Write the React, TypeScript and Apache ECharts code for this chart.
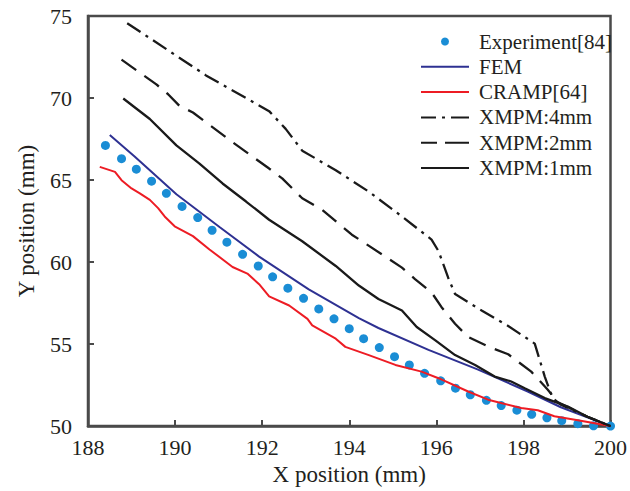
import React, { useEffect, useRef } from "react";
import * as echarts from "echarts";

const xTicks = [188, 190, 192, 194, 196, 198, 200];
const yTicks = [50, 55, 60, 65, 70, 75];

const expX = [188.40, 188.77, 189.11, 189.46, 189.80, 190.16, 190.52, 190.85, 191.19, 191.55, 191.91, 192.24, 192.59, 192.95, 193.30, 193.65, 194.00, 194.33, 194.69, 195.04, 195.38, 195.73, 196.10, 196.44, 196.78, 197.15, 197.49, 197.85, 198.19, 198.54, 198.88, 199.25, 199.61, 200.0];
const expY = [67.11, 66.30, 65.66, 64.93, 64.19, 63.39, 62.71, 61.94, 61.21, 60.47, 59.76, 59.10, 58.41, 57.79, 57.14, 56.54, 55.94, 55.33, 54.79, 54.23, 53.73, 53.22, 52.76, 52.31, 51.91, 51.57, 51.25, 50.97, 50.72, 50.51, 50.33, 50.15, 50.02, 50.0];

const femX = [188.50, 189.07, 190.03, 191.02, 191.93, 193.07, 194.22, 194.67, 195.82, 196.96, 198.10, 198.86, 200.0];
const femY = [67.75, 66.43, 64.13, 62.14, 60.33, 58.33, 56.58, 55.98, 54.65, 53.44, 52.11, 51.15, 50.0];

const crampX = [188.27, 188.62, 188.77, 189.00, 189.19, 189.42, 189.61, 189.76, 189.99, 190.41, 190.79, 191.32, 191.66, 191.93, 192.16, 192.62, 193.04, 193.15, 193.69, 193.91, 194.45, 195.06, 195.66, 196.05, 196.73, 197.19, 197.95, 198.33, 198.71, 199.25, 200.0];
const crampY = [65.80, 65.50, 64.99, 64.49, 64.19, 63.79, 63.29, 62.78, 62.18, 61.58, 60.77, 59.70, 59.30, 58.65, 57.91, 57.35, 56.54, 56.14, 55.33, 54.83, 54.33, 53.73, 53.32, 52.92, 52.11, 51.61, 51.10, 50.97, 50.60, 50.36, 50.0];

const x4X = [188.90, 190.71, 192.16, 192.54, 192.92, 193.69, 194.45, 195.21, 195.89, 196.05, 196.27, 196.43, 197.04, 197.65, 198.26, 198.49, 198.67, 198.86, 199.47, 200.0];
const x4Y = [74.56, 71.38, 69.20, 68.12, 66.79, 65.60, 64.29, 62.78, 61.37, 60.67, 59.06, 58.05, 57.05, 56.10, 55.03, 53.02, 51.71, 51.31, 50.57, 50.0];

const x2X = [188.77, 189.57, 189.84, 190.10, 190.41, 191.32, 192.16, 192.46, 192.92, 193.38, 194.06, 194.75, 195.21, 195.51, 195.89, 196.12, 196.43, 196.73, 197.26, 197.65, 198.18, 198.56, 198.79, 199.47, 200.0];
const x2Y = [72.34, 70.83, 70.23, 69.52, 69.12, 67.31, 65.70, 65.10, 63.89, 63.18, 61.67, 60.47, 59.66, 58.96, 58.15, 57.25, 56.24, 55.43, 54.77, 54.38, 53.32, 52.22, 51.45, 50.57, 50.0];

const x1X = [188.81, 189.42, 190.03, 190.56, 191.09, 191.63, 192.16, 192.92, 193.69, 194.22, 194.67, 195.21, 195.55, 195.97, 196.43, 196.89, 197.34, 197.72, 198.03, 198.49, 199.02, 199.47, 200.0];
const x1Y = [69.97, 68.72, 67.11, 66.00, 64.79, 63.69, 62.58, 61.27, 59.76, 58.57, 57.75, 57.05, 56.04, 55.24, 54.33, 53.73, 53.02, 52.72, 52.31, 51.71, 51.19, 50.57, 50.0];

const zip = (xs: number[], ys: number[]) => xs.map((x, i) => [x, ys[i]]);

const FONT = "Liberation Serif";
const AXIS_COLOR = "#4a4a4a";
const TEXT_COLOR = "#231f20";

export default function App() {
  const ref = useRef<HTMLDivElement>(null);
  useEffect(() => {
    if (!ref.current) return;
    const chart = echarts.init(ref.current, null, { renderer: "svg" });
    const lineSeries = (name: string, xs: number[], ys: number[], color: string, width: number, type: any) => ({
      name,
      type: "line",
      data: zip(xs, ys),
      symbol: "none",
      smooth: false,
      lineStyle: { color, width, type },
      itemStyle: { color },
      z: 3,
    });
    const hidden = { opacity: 0 };
    chart.setOption({
      animation: false,
      backgroundColor: "#ffffff",
      grid: {
        left: 88,
        right: 17,
        top: 16,
        bottom: 61,
        show: true,
        borderColor: AXIS_COLOR,
        borderWidth: 2.5,
        backgroundColor: "transparent",
      },
      legend: {
        orient: "vertical",
        left: 420,
        top: 31,
        padding: 0,
        itemWidth: 48,
        itemHeight: 10,
        itemGap: 4.3,
        textStyle: { fontFamily: FONT, fontSize: 21, color: TEXT_COLOR, lineHeight: 21, padding: [0, 0, 0, 5] },
        data: [
          { name: "Experiment[84]" },
          { name: "FEM", itemStyle: hidden },
          { name: "CRAMP[64]", itemStyle: hidden },
          { name: "XMPM:4mm", itemStyle: hidden, lineStyle: { type: [15, 6, 3, 6, 18, 6] } },
          { name: "XMPM:2mm", itemStyle: hidden, lineStyle: { type: [16, 8, 24, 8] } },
          { name: "XMPM:1mm", itemStyle: hidden },
        ],
      },
      xAxis: {
        type: "value",
        min: xTicks[0],
        max: xTicks[xTicks.length - 1],
        interval: 2,
        name: "X position (mm)",
        nameLocation: "middle",
        nameGap: 25,
        nameTextStyle: { fontFamily: FONT, fontSize: 23, color: TEXT_COLOR },
        axisLine: { show: true, onZero: false, lineStyle: { color: AXIS_COLOR, width: 2.5 } },
        axisTick: { show: true, inside: true, length: 6, lineStyle: { color: AXIS_COLOR, width: 2 } },
        axisLabel: { fontFamily: FONT, fontSize: 22, color: TEXT_COLOR, margin: 10 },
        splitLine: { show: false },
      },
      yAxis: {
        type: "value",
        min: yTicks[0],
        max: yTicks[yTicks.length - 1],
        interval: 5,
        name: "Y position (mm)",
        nameLocation: "middle",
        nameGap: 50,
        nameRotate: 90,
        nameTextStyle: { fontFamily: FONT, fontSize: 23, color: TEXT_COLOR },
        axisLine: { show: true, onZero: false, lineStyle: { color: AXIS_COLOR, width: 2.5 } },
        axisTick: { show: true, inside: true, length: 6, lineStyle: { color: AXIS_COLOR, width: 2 } },
        axisLabel: { fontFamily: FONT, fontSize: 22, color: TEXT_COLOR, margin: 16 },
        splitLine: { show: false },
      },
      series: [
        {
          name: "Experiment[84]",
          type: "line",
          data: zip(expX, expY),
          symbol: "circle",
          symbolSize: 9,
          showSymbol: true,
          lineStyle: { opacity: 0, width: 0 },
          itemStyle: { color: "#1a8dd5" },
          z: 2,
        },
        lineSeries("FEM", femX, femY, "#2e3192", 2, "solid"),
        lineSeries("CRAMP[64]", crampX, crampY, "#ed1c24", 2, "solid"),
        lineSeries("XMPM:4mm", x4X, x4Y, "#1a1a1a", 2.3, [16, 6, 3, 6]),
        lineSeries("XMPM:2mm", x2X, x2Y, "#1a1a1a", 2.3, [18, 10]),
        lineSeries("XMPM:1mm", x1X, x1Y, "#1a1a1a", 2.3, "solid"),
      ],
    });
    return () => chart.dispose();
  }, []);
  return <div ref={ref} style={{ width: 630, height: 491, position: "absolute", left: 0, top: 0 }} />;
}
